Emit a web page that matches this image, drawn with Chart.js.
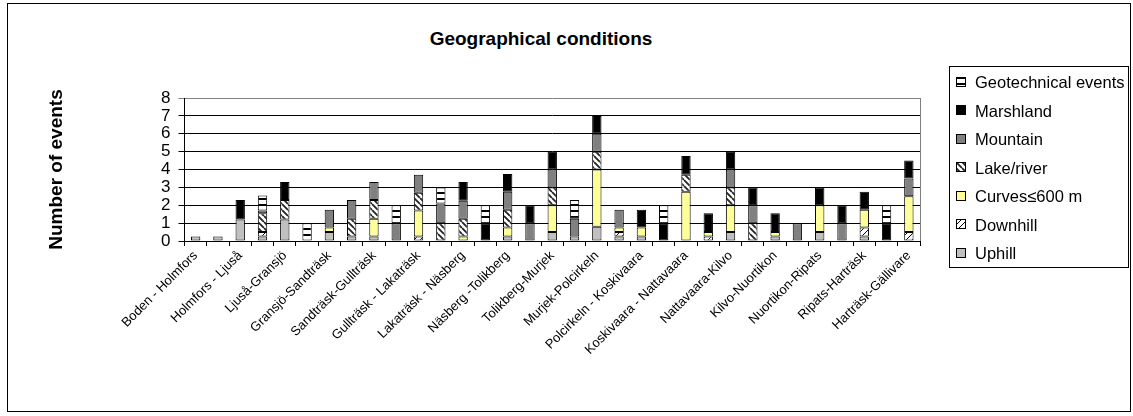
<!DOCTYPE html>
<html>
<head>
<meta charset="utf-8">
<script src="https://cdn.jsdelivr.net/npm/chart.js"></script>
<style>
body{margin:0;background:#fff;}
#caja{position:relative;width:1133px;height:416px;font-family:Arial,"Liberation Sans",sans-serif;color:#000;}
#marco{position:absolute;left:7px;top:3px;width:1122px;height:407px;border:1px solid #000;}
#titulo{position:absolute;left:0;top:28px;width:1082px;text-align:center;font-weight:bold;font-size:19px;}
#leyenda{position:absolute;left:949px;top:66px;width:178px;height:200px;border:1px solid #000;}
.item{position:absolute;left:6px;font-size:16.5px;line-height:20px;white-space:nowrap;}
.item canvas{vertical-align:middle;margin-right:9px;position:relative;top:-2px;}
#grafico{position:absolute;left:0;top:0;}
</style>
</head>
<body>
<div id="caja">
  <div id="marco"></div>
  <div id="titulo">Geographical conditions</div>
  <canvas id="grafico" width="1133" height="416"></canvas>
  <div id="leyenda"></div>
</div>
<script>
// tramos (las posiciones impares son estaciones, su etiqueta no se muestra)
const categorias = ["Boden - Holmfors","Holmfors","Holmfors - Ljuså","Ljuså","Ljuså-Gransjö","Gransjö",
"Gransjö-Sandträsk","Sandträsk","Sandträsk-Gullträsk","Gullträsk","Gullträsk - Lakaträsk","Lakaträsk",
"Lakaträsk - Näsberg","Näsberg","Näsberg -Tolikberg","Tolikberg","Tolikberg-Murjek","Murjek",
"Murjek-Polcirkeln","Polcirkeln","Polcirkeln - Koskivaara","Koskivaara","Koskivaara - Nattavaara","Nattavaara",
"Nattavaara-Kilvo","Kilvo","Kilvo-Nuortikon","Nuortikon","Nuortikon-Ripats","Ripats",
"Ripats-Harträsk","Harträsk","Harträsk-Gällivare"];

const uphill   = [0.25,0.25,1.2,0.25,1.2,0,0.5,0.25,0.25,0,0,0,0,0,0.25,0,0.5,0.25,0.8,0.25,0.25,0,0,0,0.5,0,0.25,0,0.5,0,0.25,0,0];
const downhill = [0,0,0,0.25,0,0,0,0,0,0,0.25,0,0,0,0,0,0,0,0,0.25,0,0,0,0.25,0,0,0,0,0,0,0.5,0,0.5];
const curves   = [0,0,0,0,0,0,0.25,0,1.0,0,1.45,0,0.25,0,0.5,0,1.5,0,3.2,0.25,0.5,0,2.75,0.25,1.5,0,0.25,0,1.5,0,1.0,0,2.0];
const lake     = [0,0,0,1.05,1.1,0,0,1.0,1.05,0,1.0,1.0,1.0,0,1.0,0,1.0,0,1.0,0,0,0,0.95,0,1.0,1.0,0,0,0,0,0,0,0];
const mountain = [0,0,0,0.15,0,0,1.0,1.05,1.0,1.0,1.0,1.1,1.0,0,1.0,1.0,1.0,1.0,1.0,1.0,0,0,0,0,1.0,1.0,0,1.0,0,1.0,0,0,1.0];
const marsh    = [0,0,1.1,0,1.0,0,0,0,0,0,0,0,1.05,1.0,1.0,1.0,1.0,0,1.0,0,1.0,1.0,1.05,1.05,1.0,1.0,1.05,0,1.0,1.0,1.0,1.0,1.0];
const geotech  = [0,0,0,0.85,0,1.0,0,0,0,1.0,0,0.9,0,1.0,0,0,0,1.05,0,0,0,1.0,0,0,0,0,0,0,0,0,0,1.0,0];

const ticksY = [0,1,2,3,4,5,6,7,8];

Chart.defaults.font.family = 'Arial, "Liberation Sans", sans-serif';
Chart.defaults.color = '#000';

function trama(tipo){
    const c = document.createElement('canvas');
    const g = c.getContext('2d');
    c.width = 6; c.height = 6;
    g.fillStyle = '#fff';
    g.fillRect(0,0,6,6);
    g.strokeStyle = '#000';
    if(tipo=='bajada'){
        g.lineWidth = 1;
        g.beginPath();
        g.moveTo(0,6); g.lineTo(6,0);
        g.stroke();
    }else if(tipo=='lago'){
        g.strokeStyle = '#222';
        g.lineWidth = 1.8;
        g.beginPath();
        for(let o=-6;o<=6;o+=6){
            g.moveTo(o,0); g.lineTo(o+6,6);
        }
        g.stroke();
    }else if(tipo=='geo'){
        g.fillStyle = '#000';
        g.fillRect(0,0,6,2);
    }
    return g.createPattern(c,'repeat');
}

const series = [
    {label:'Uphill', data:uphill, color:'#c0c0c0'},
    {label:'Downhill', data:downhill, color:trama('bajada')},
    {label:'Curves≤600 m', data:curves, color:'#ffff99'},
    {label:'Lake/river', data:lake, color:trama('lago')},
    {label:'Mountain', data:mountain, color:'#808080'},
    {label:'Marshland', data:marsh, color:'#000000'},
    {label:'Geotechnical events', data:geotech, color:trama('geo')}
];

const datasets = series.map(s => ({
    label: s.label,
    data: s.data.map(v => v == 0 ? null : v),
    backgroundColor: s.color,
    borderColor: '#000',
    borderWidth: 1,
    borderSkipped: false,
    inflateAmount: 0,
    categoryPercentage: 1,
    barPercentage: 0.42
}));

const bordeGris = {
    id: 'bordeGris',
    beforeDatasetsDraw(chart){
        const ctx = chart.ctx;
        const a = chart.chartArea;
        ctx.save();
        ctx.strokeStyle = '#808080';
        ctx.lineWidth = 1;
        ctx.beginPath();
        ctx.moveTo(Math.round(a.right)+0.5, a.top);
        ctx.lineTo(Math.round(a.right)+0.5, a.bottom);
        ctx.stroke();
        ctx.restore();
    }
};

const ctx = document.getElementById('grafico').getContext('2d');
const grafico = new Chart(ctx, {
    type: 'bar',
    data: {labels: categorias, datasets: datasets},
    plugins: [bordeGris],
    options: {
        responsive: false,
        animation: false,
        layout: {padding: {top: 98, right: 213, bottom: 0, left: 0}},
        plugins: {
            legend: {display: false},
            title: {display: false},
            tooltip: {enabled: false}
        },
        scales: {
            x: {
                stacked: true,
                grid: {offset: true, drawOnChartArea: false, tickLength: 5, color: '#000'},
                border: {color: '#000'},
                ticks: {
                    autoSkip: false, maxRotation: 45, minRotation: 45, padding: 2,
                    font: {size: 13},
                    callback: (v, i) => i % 2 == 0 ? categorias[i] : ''
                },
                afterFit: s => { s.height = 175; }
            },
            y: {
                stacked: true,
                min: ticksY[0],
                max: ticksY[ticksY.length-1],
                afterBuildTicks: s => { s.ticks = ticksY.map(v => ({value: v})); },
                ticks: {autoSkip: false, padding: 8, font: {size: 17}},
                grid: {
                    color: c => (c.tick && c.tick.value == 8) ? '#808080' : '#000',
                    tickLength: 6
                },
                border: {color: '#000'},
                title: {
                    display: true, text: 'Number of events',
                    font: {size: 19, weight: 'bold'},
                    padding: {top: 45, bottom: 0}
                },
                afterFit: s => { s.width = 184.5; }
            }
        }
    }
});

// leyenda en orden inverso (como la original)
const leyenda = document.getElementById('leyenda');
series.slice().reverse().forEach((s, i) => {
    const fila = document.createElement('div');
    fila.className = 'item';
    fila.style.top = (5 + i*28.5) + 'px';
    const ic = document.createElement('canvas');
    ic.width = 10; ic.height = 10;
    const g = ic.getContext('2d');
    g.fillStyle = s.color;
    g.fillRect(0,0,10,10);
    g.strokeStyle = '#000';
    g.lineWidth = 1;
    g.strokeRect(0.5,0.5,9,9);
    fila.appendChild(ic);
    fila.appendChild(document.createTextNode(s.label));
    leyenda.appendChild(fila);
});
</script>
</body>
</html>
